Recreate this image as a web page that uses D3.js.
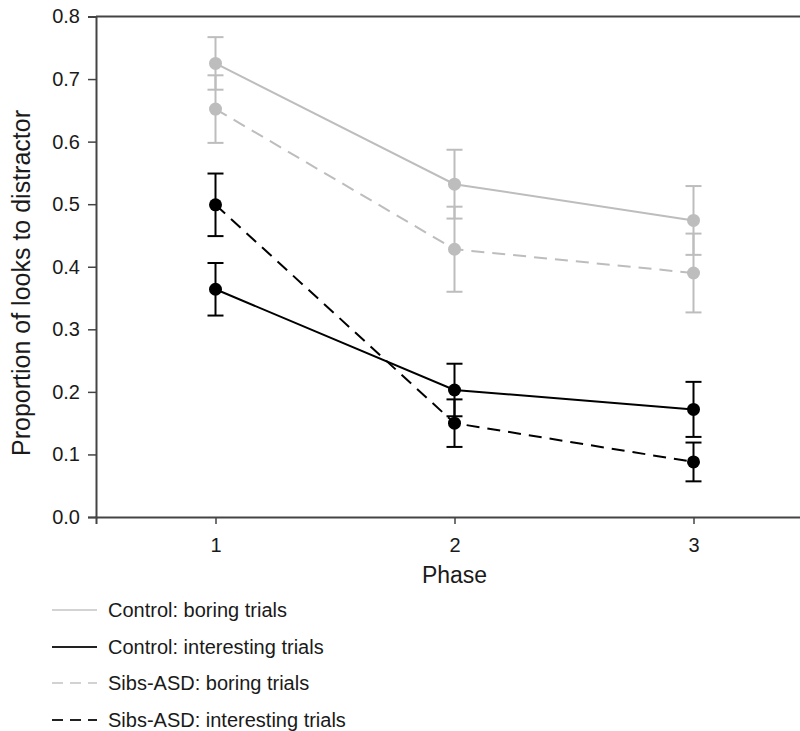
<!DOCTYPE html>
<html>
<head>
<meta charset="utf-8">
<script src="https://cdn.jsdelivr.net/npm/d3@7"></script>
<style>
  body { margin: 0; background: #fff; }
  text { font-family: "Liberation Sans", Arial, sans-serif; fill: #1a1a1a; }
</style>
</head>
<body>
<div id="chart"></div>
<script>
// phases on the x axis
const phases = [1, 2, 3];
const yTicks = [0, 0.1, 0.2, 0.3, 0.4, 0.5, 0.6, 0.7, 0.8];

// means and standard errors
const controlBoring = [0.725, 0.532, 0.474];
const controlBoringErr = [0.042, 0.055, 0.055];
const controlInteresting = [0.364, 0.203, 0.172];
const controlInterestingErr = [0.042, 0.042, 0.044];
const sibsBoring = [0.652, 0.428, 0.390];
const sibsBoringErr = [0.054, 0.068, 0.063];
const sibsInteresting = [0.499, 0.150, 0.088];
const sibsInterestingErr = [0.050, 0.038, 0.031];

const seriesNames = ["Control: boring trials", "Control: interesting trials",
                     "Sibs-ASD: boring trials", "Sibs-ASD: interesting trials"];

const series = [
  { name: seriesNames[0], vals: controlBoring, err: controlBoringErr, color: "#bdbdbd", dash: null },
  { name: seriesNames[1], vals: controlInteresting, err: controlInterestingErr, color: "#000", dash: null },
  { name: seriesNames[2], vals: sibsBoring, err: sibsBoringErr, color: "#bdbdbd", dash: "13,8" },
  { name: seriesNames[3], vals: sibsInteresting, err: sibsInterestingErr, color: "#000", dash: "13,8" }
];

const width = 800, height = 731;
const svg = d3.select("#chart").append("svg")
    .attr("width", width)
    .attr("height", height);

const x = d3.scaleLinear().domain([0.5, 3.5]).range([96, 813]);
const y = d3.scaleLinear().domain([0, 0.8]).range([517, 16.5]);

const axisColor = "#444";

// y axis
const yAxis = svg.append("g")
    .attr("transform", `translate(${x(0.5)},0)`)
    .call(d3.axisLeft(y).tickValues(yTicks).tickFormat(d3.format(".1f")).tickSize(8).tickPadding(8));
yAxis.select(".domain").attr("stroke", axisColor).attr("stroke-width", 2);
yAxis.selectAll(".tick line").attr("stroke", axisColor).attr("stroke-width", 1.5);
yAxis.selectAll("text").style("font-size", "20px").attr("fill", "#1a1a1a");

// x axis
const xAxis = svg.append("g")
    .attr("transform", `translate(0,${y(0)})`)
    .call(d3.axisBottom(x).tickValues(phases).tickFormat(d3.format("d")).tickSize(7).tickPadding(14));
xAxis.select(".domain").attr("stroke", axisColor).attr("stroke-width", 2);
xAxis.selectAll(".tick line").attr("stroke", axisColor).attr("stroke-width", 1.5);
xAxis.selectAll("text").style("font-size", "20px").attr("fill", "#1a1a1a");

// top frame line
svg.append("line")
    .attr("x1", x(0.5)).attr("x2", x(3.5))
    .attr("y1", y(0.8)).attr("y2", y(0.8))
    .attr("stroke", axisColor).attr("stroke-width", 2);

// axis titles
svg.append("text")
    .attr("x", x(2)).attr("y", 583)
    .attr("text-anchor", "middle")
    .style("font-size", "23px")
    .text("Phase");

svg.append("text")
    .attr("transform", `translate(30,283) rotate(-90)`)
    .attr("text-anchor", "middle")
    .style("font-size", "25px")
    .text("Proportion of looks to distractor");

const line = d3.line()
    .x((d, i) => x(phases[i]))
    .y(d => y(d));

// draw grey series first, then black ones on top
const order = [2, 0, 3, 1];
order.forEach(k => {
  const s = series[k];
  const g = svg.append("g");

  g.append("path")
      .datum(s.vals)
      .attr("d", line)
      .attr("fill", "none")
      .attr("stroke", s.color)
      .attr("stroke-width", 2)
      .attr("stroke-dasharray", s.dash);

  const bars = g.selectAll(".err")
      .data(s.vals.map((v, i) => ({ p: phases[i], v: v, e: s.err[i] })))
      .enter().append("g");

  bars.append("line")
      .attr("x1", d => x(d.p)).attr("x2", d => x(d.p))
      .attr("y1", d => y(d.v + d.e)).attr("y2", d => y(d.v - d.e))
      .attr("stroke", s.color).attr("stroke-width", 2);
  bars.append("line")
      .attr("x1", d => x(d.p) - 8).attr("x2", d => x(d.p) + 8)
      .attr("y1", d => y(d.v + d.e)).attr("y2", d => y(d.v + d.e))
      .attr("stroke", s.color).attr("stroke-width", 2);
  bars.append("line")
      .attr("x1", d => x(d.p) - 8).attr("x2", d => x(d.p) + 8)
      .attr("y1", d => y(d.v - d.e)).attr("y2", d => y(d.v - d.e))
      .attr("stroke", s.color).attr("stroke-width", 2);

  bars.append("circle")
      .attr("cx", d => x(d.p))
      .attr("cy", d => y(d.v))
      .attr("r", 6.5)
      .attr("fill", s.color);
});

// legend
const legendY = [610, 647, 683, 720];
const legend = svg.append("g");
series.forEach((s, i) => {
  legend.append("line")
      .attr("x1", 52).attr("x2", 97)
      .attr("y1", legendY[i]).attr("y2", legendY[i])
      .attr("stroke", s.color === "#000" ? "#222" : "#c4c4c4")
      .attr("stroke-width", s.color === "#000" ? 2 : 1.5)
      .attr("stroke-dasharray", s.dash ? "11,7" : null);
  legend.append("text")
      .attr("x", 108).attr("y", legendY[i])
      .attr("dy", "0.35em")
      .style("font-size", "20px")
      .text(s.name);
});
</script>
</body>
</html>
